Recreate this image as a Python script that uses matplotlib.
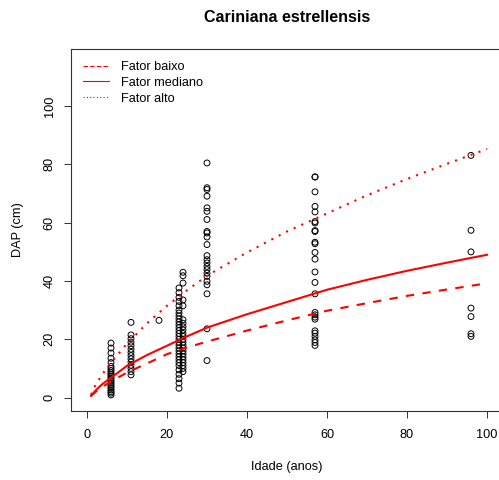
import matplotlib

matplotlib.use("Agg")
import matplotlib.pyplot as plt

# ---------------------------------------------------------------------------
# Data
# ---------------------------------------------------------------------------
AGE_6 = [18.7, 17.0, 15.3, 13.5, 12.0, 10.7, 10.0, 9.3, 8.6, 8.0, 7.4, 6.8,
         6.2, 5.6, 5.0, 4.4, 3.8, 3.2, 2.6, 2.0, 1.5, 0.9]
AGE_11 = [25.8, 21.5, 20.2, 19.0, 17.8, 16.6, 15.5, 14.4, 13.3, 12.2, 11.1,
          10.0, 8.9, 7.8]
AGE_18 = [26.5]
AGE_23 = [37.6, 36.0, 34.4, 33.0, 31.5, 30.0, 29.0, 28.0, 27.0, 26.0, 25.0,
          24.0, 23.0, 22.0, 21.0, 20.0, 19.0, 18.0, 17.0, 16.0, 15.0, 14.0,
          13.0, 12.0, 11.0, 9.5, 8.0, 6.5, 5.0, 3.2]
AGE_24 = [43.0, 41.8, 39.3, 33.5, 31.5, 26.7, 25.5, 24.3, 23.2, 22.0, 21.0,
          20.0, 19.0, 18.0, 17.0, 16.0, 15.0, 14.0, 13.0, 12.0, 11.0, 10.0, 8.9]
AGE_30 = [80.5, 72.0, 71.4, 69.1, 65.1, 63.9, 61.1, 57.0, 56.5, 55.1, 52.5,
          48.7, 47.3, 46.2, 45.0, 43.9, 42.7, 41.6, 39.9, 38.7, 35.6, 23.6, 12.7]
AGE_57 = [75.7, 75.7, 70.6, 65.6, 63.7, 60.4, 59.9, 57.3, 57.0, 53.3, 52.8,
          49.8, 47.5, 43.1, 39.5, 35.6, 29.2, 28.4, 27.6, 26.9, 22.9, 22.1,
          21.0, 19.8, 18.9, 17.9]
AGE_96 = [83.1, 57.4, 50.0, 30.7, 27.8, 21.9, 21.0]

groups = {6: AGE_6, 11: AGE_11, 18: AGE_18, 23: AGE_23, 24: AGE_24,
          30: AGE_30, 57: AGE_57, 96: AGE_96}
idade = [a for a, vals in groups.items() for _ in vals]
dap = [v for vals in groups.values() for v in vals]

# fitted curves
curve_x = [1, 2, 3, 4, 6, 10, 15, 20, 25, 30, 40, 50, 60, 70, 80, 90, 100]
fator_baixo = [0.5, 1.8, 2.9, 3.8, 5.5, 8.6, 11.7, 14.9, 17.2, 19.2, 23.0,
               26.5, 29.8, 32.4, 34.9, 37.1, 39.2]
fator_mediano = [0.6, 2.2, 3.6, 4.8, 6.8, 10.9, 14.6, 17.8, 21.0, 24.0, 28.6,
                 32.8, 37.0, 40.4, 43.5, 46.3, 49.0]
fator_alto = [1.0, 4.0, 6.2, 8.3, 12.0, 18.5, 25.5, 31.5, 36.8, 41.8, 49.8,
              57.0, 63.2, 69.4, 75.0, 80.2, 85.3]

plt.rcParams["font.family"] = ["Liberation Sans", "DejaVu Sans"]
FS = 9.2

W, H = 499, 480
fig = plt.figure(figsize=(W / 100, H / 100), dpi=100)
# plot region: left 71 px, top 49 px, bottom 411 px, right edge beyond the image
ax = fig.add_axes([71 / W, 1 - 411 / H, (503 - 71) / W, (411 - 49) / H])

ax.scatter(idade, dap, s=18, facecolors="none", edgecolors="black", lw=0.7)
ax.plot(curve_x, fator_baixo, color="red", lw=1.5, ls=(0, (4, 4)))
ax.plot(curve_x, fator_mediano, color="red", lw=1.5)
ax.plot(curve_x, fator_alto, color="red", lw=1.5, ls=(0, (1, 3)))

ax.set_xlim(-4, 104)
ax.set_ylim(-4.6, 119.6)
ax.set_xticks([0, 20, 40, 60, 80, 100])
ax.set_yticks([0, 20, 40, 60, 80, 100])
ax.tick_params(length=5, width=0.7, labelsize=FS, pad=8, color="#333333")
ax.tick_params(axis="y", labelrotation=90, pad=6)
for lab in ax.get_yticklabels():
    lab.set_va("center")
for sp in ax.spines.values():
    sp.set_linewidth(0.8)
    sp.set_color("#333333")

handles = [
    plt.Line2D([], [], color="red", lw=0.8, ls=(0, (4, 2))),
    plt.Line2D([], [], color="red", lw=0.8),
    plt.Line2D([], [], color="red", lw=0.8, ls=(0, (1, 2))),
]
fig.legend(handles, ["Fator baixo", "Fator mediano", "Fator alto"],
           loc="upper left", bbox_to_anchor=(83 / W, 1 - 61 / H),
           frameon=False, fontsize=FS, handlelength=2.0, handletextpad=0.95,
           labelspacing=0.3, borderpad=0, borderaxespad=0)

fig.text(287 / W, 1 - 18 / H, "Cariniana estrellensis", ha="center",
         va="center", fontsize=11.5, fontweight="bold")
fig.text(287 / W, 1 - 467 / H, "Idade (anos)", ha="center", va="center",
         fontsize=FS)
fig.text(18 / W, 1 - 230 / H, "DAP (cm)", ha="center", va="center",
         rotation=90, fontsize=FS)

fig.savefig("out.png", dpi=100)
